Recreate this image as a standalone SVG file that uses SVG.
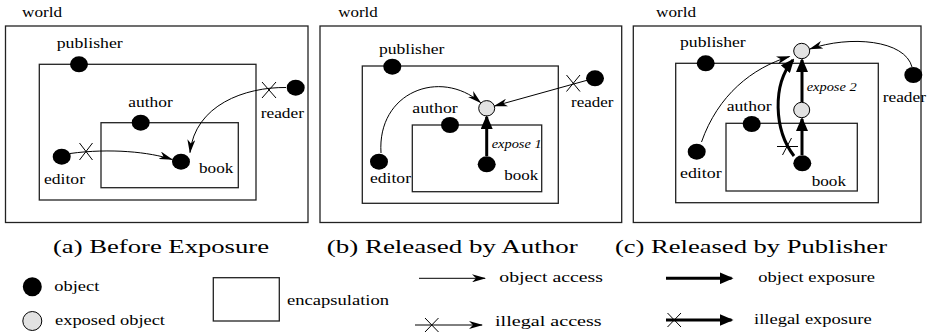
<svg xmlns="http://www.w3.org/2000/svg" width="929" height="333" viewBox="0 0 929 333">
<style>
text{font-family:"Liberation Serif","DejaVu Serif",serif;fill:#000}
.lbl{font-size:14px}
.cap{font-size:19px}
.it{font-size:12px;font-style:italic}
.box{fill:#fff;stroke:#222;stroke-width:1.3}
.obj{fill:#000}
.exp{fill:#e2e2e2;stroke:#000;stroke-width:1}
.acc{fill:none;stroke:#000;stroke-width:1;marker-end:url(#thin)}
.xp{fill:none;stroke:#000;stroke-width:3;marker-end:url(#thick)}
.x{stroke:#000;stroke-width:1;fill:none}
</style>
<defs>
<marker id="thin" markerUnits="userSpaceOnUse" viewBox="0 0 14 8" refX="13" refY="4" markerWidth="14" markerHeight="8" orient="auto"><path d="M0,0 L14,4 L0,8 L4,4 z" fill="#000"/></marker>
<marker id="thick" markerUnits="userSpaceOnUse" viewBox="0 0 14 12" refX="12" refY="6" markerWidth="14" markerHeight="12" orient="auto"><path d="M0,0 L14,6 L0,12 z" fill="#000"/></marker>
</defs>
<rect width="929" height="333" fill="#fff"/>

<!-- Panel a -->
<g id="panel-a">
<g id="a-world"><rect class="box" x="5.5" y="26" width="302.5" height="196.5"/><text class="lbl" x="22" y="17" textLength="40" lengthAdjust="spacingAndGlyphs">world</text></g>
<g id="a-publisher-box"><rect class="box" x="39.3" y="64.3" width="216.7" height="135.7"/></g>
<g id="a-author-box"><rect class="box" x="101" y="122.7" width="137.3" height="65"/></g>
<g id="a-publisher"><ellipse class="obj" cx="79" cy="64.3" rx="9" ry="8"/><text class="lbl" x="56.7" y="48.3" textLength="66" lengthAdjust="spacingAndGlyphs">publisher</text></g>
<g id="a-author"><ellipse class="obj" cx="140.7" cy="122.7" rx="9" ry="8"/><text class="lbl" x="128.3" y="106.7" textLength="44.4" lengthAdjust="spacingAndGlyphs">author</text></g>
<g id="a-reader"><ellipse class="obj" cx="295.7" cy="87.7" rx="9" ry="8"/><text class="lbl" x="260.7" y="118.3" textLength="43.3" lengthAdjust="spacingAndGlyphs">reader</text></g>
<g id="a-editor"><ellipse class="obj" cx="61.7" cy="156.7" rx="9" ry="8"/><text class="lbl" x="44" y="184.3" textLength="41" lengthAdjust="spacingAndGlyphs">editor</text></g>
<g id="a-book"><ellipse class="obj" cx="181" cy="161.7" rx="9" ry="8"/><text class="lbl" x="199" y="172.7" textLength="34.3" lengthAdjust="spacingAndGlyphs">book</text></g>
<g id="a-connectors">
<path class="acc" d="M70,153.5 C110,148 150,152 172,159.5"/>
<path class="x" d="M79.5,143 L92.5,160 M92.5,143 L79.5,160"/>
<path class="acc" d="M286,87.5 C245,87 195,105 190,152.5"/>
<path class="x" d="M262,82 L276,98 M276,82 L262,98"/>
</g>
<text class="cap" x="53" y="253" textLength="216" lengthAdjust="spacingAndGlyphs">(a) Before Exposure</text>
</g>

<!-- Panel b -->
<g id="panel-b">
<g id="b-world"><rect class="box" x="320" y="26" width="301.7" height="196.5"/><text class="lbl" x="338.3" y="17.3" textLength="39.5" lengthAdjust="spacingAndGlyphs">world</text></g>
<g id="b-publisher-box"><rect class="box" x="362.3" y="66" width="196" height="137.3"/></g>
<g id="b-author-box"><rect class="box" x="412.3" y="125" width="129.4" height="66.7"/></g>
<g id="b-publisher"><ellipse class="obj" cx="392.3" cy="66.7" rx="9" ry="8"/><text class="lbl" x="379" y="54.3" textLength="65.3" lengthAdjust="spacingAndGlyphs">publisher</text></g>
<g id="b-author"><ellipse class="obj" cx="450" cy="125" rx="9" ry="8"/><text class="lbl" x="412.3" y="112.7" textLength="45.4" lengthAdjust="spacingAndGlyphs">author</text></g>
<g id="b-reader"><ellipse class="obj" cx="595" cy="78.3" rx="9" ry="8"/><text class="lbl" x="571" y="107.3" textLength="42.3" lengthAdjust="spacingAndGlyphs">reader</text></g>
<g id="b-editor"><ellipse class="obj" cx="379" cy="161.7" rx="9" ry="8"/><text class="lbl" x="370" y="183.3" textLength="41" lengthAdjust="spacingAndGlyphs">editor</text></g>
<g id="b-book"><ellipse class="obj" cx="486.7" cy="164.3" rx="9" ry="8"/><text class="lbl" x="504.3" y="180" textLength="34" lengthAdjust="spacingAndGlyphs">book</text></g>
<g id="b-exposed"><ellipse class="exp" cx="486.7" cy="108.3" rx="8" ry="7.7"/></g>
<text class="it" x="491.7" y="148.3" textLength="50" lengthAdjust="spacingAndGlyphs">expose 1</text>
<g id="b-connectors">
<path class="xp" d="M486.7,156 L486.7,117"/>
<path class="acc" d="M381,153 C377,92 440,68 480.5,102.5"/>
<path class="acc" d="M588,80 L494.5,106"/>
<path class="x" d="M566.5,75 L580,91.5 M580,75 L566.5,91.5"/>
</g>
<text class="cap" x="326.7" y="253" textLength="251" lengthAdjust="spacingAndGlyphs">(b) Released by Author</text>
</g>

<!-- Panel c -->
<g id="panel-c">
<g id="c-world"><rect class="box" x="633.3" y="26" width="287.7" height="196.5"/><text class="lbl" x="656" y="17.3" textLength="40" lengthAdjust="spacingAndGlyphs">world</text></g>
<g id="c-publisher-box"><rect class="box" x="675.7" y="63.3" width="202.6" height="139.4"/></g>
<g id="c-author-box"><rect class="box" x="726" y="123.3" width="131.3" height="67.7"/></g>
<g id="c-publisher"><ellipse class="obj" cx="705.7" cy="63.3" rx="9" ry="8"/><text class="lbl" x="680" y="46.7" textLength="65.7" lengthAdjust="spacingAndGlyphs">publisher</text></g>
<g id="c-author"><ellipse class="obj" cx="751.7" cy="124" rx="9" ry="8"/><text class="lbl" x="726.7" y="111" textLength="45" lengthAdjust="spacingAndGlyphs">author</text></g>
<g id="c-reader"><ellipse class="obj" cx="913.3" cy="75" rx="9" ry="8"/><text class="lbl" x="882.7" y="101.7" textLength="43.3" lengthAdjust="spacingAndGlyphs">reader</text></g>
<g id="c-editor"><ellipse class="obj" cx="696.7" cy="151.7" rx="9" ry="8"/><text class="lbl" x="680" y="178.3" textLength="41.7" lengthAdjust="spacingAndGlyphs">editor</text></g>
<g id="c-book"><ellipse class="obj" cx="802.3" cy="163.3" rx="9" ry="8"/><text class="lbl" x="811.7" y="186" textLength="34.3" lengthAdjust="spacingAndGlyphs">book</text></g>
<g id="c-exposed-mid"><ellipse class="exp" cx="801.7" cy="110" rx="8" ry="7.7"/></g>
<g id="c-exposed-top"><ellipse class="exp" cx="801.7" cy="51" rx="8" ry="7.7"/></g>
<text class="it" x="806.7" y="90.7" textLength="50" lengthAdjust="spacingAndGlyphs">expose 2</text>
<g id="c-connectors">
<path class="xp" d="M802,155 L802,119"/>
<path class="xp" d="M802,102 L802,60"/>
<path class="xp" d="M794,156 C774,130 772,85 793,60"/>
<path class="x" d="M777,146.5 L798,146.5 M782.5,155 L791.5,138"/>
<path class="acc" d="M701.5,142 C718,95 752,68 789.5,56.5"/>
<path class="acc" d="M912,67 C905,40 850,35 810,49"/>
</g>
<text class="cap" x="615" y="253" textLength="272" lengthAdjust="spacingAndGlyphs">(c) Released by Publisher</text>
</g>

<!-- Legend -->
<g id="legend">
<g id="lg-object"><ellipse class="obj" cx="32.3" cy="286.7" rx="9.5" ry="9.5"/><text class="lbl" x="54.3" y="291" textLength="45" lengthAdjust="spacingAndGlyphs">object</text></g>
<g id="lg-exposed"><ellipse class="exp" cx="32.3" cy="321" rx="9.5" ry="9.5"/><text class="lbl" x="55" y="325" textLength="110" lengthAdjust="spacingAndGlyphs">exposed object</text></g>
<g id="lg-encap"><rect class="box" x="213.3" y="277.7" width="66" height="43.3"/><text class="lbl" x="287" y="305" textLength="102" lengthAdjust="spacingAndGlyphs">encapsulation</text></g>
<g id="lg-access"><path class="acc" d="M419,278.3 L485,278.3"/><text class="lbl" x="499.3" y="282" textLength="103.7" lengthAdjust="spacingAndGlyphs">object access</text></g>
<g id="lg-illegal-access"><path class="acc" d="M415,325 L482,325"/><path class="x" d="M425,318 L438.5,332 M438.5,318 L425,332"/><text class="lbl" x="495" y="326" textLength="106.7" lengthAdjust="spacingAndGlyphs">illegal access</text></g>
<g id="lg-exposure"><path class="xp" d="M666,278.3 L731.5,278.3"/><text class="lbl" x="758.3" y="282" textLength="116.7" lengthAdjust="spacingAndGlyphs">object exposure</text></g>
<g id="lg-illegal-exposure"><path class="xp" d="M666,320 L731.5,320"/><path class="x" d="M667.5,313 L681,327 M681,313 L667.5,327"/><text class="lbl" x="754" y="324" textLength="117.7" lengthAdjust="spacingAndGlyphs">illegal exposure</text></g>
</g>
</svg>
